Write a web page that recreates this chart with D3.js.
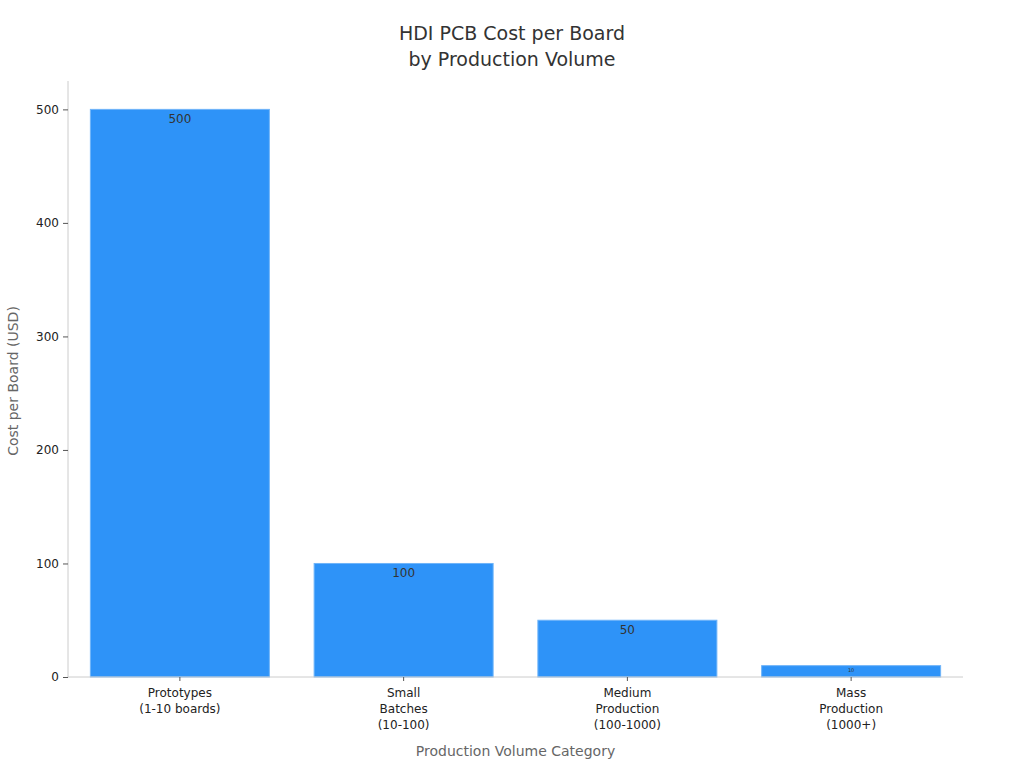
<!DOCTYPE html><html><head><meta charset="utf-8"><script src="https://cdn.jsdelivr.net/npm/d3@7"></script>
<style>body{margin:0;background:#fff;font-family:"DejaVu Sans",sans-serif}</style></head><body><svg id="c" width="1024" height="768"></svg>
<script>
const categories=[["Prototypes","(1-10 boards)"],["Small","Batches","(10-100)"],["Medium","Production","(100-1000)"],["Mass","Production","(1000+)"]];
const values=[500,100,50,10];
const yTicks=[0,100,200,300,400,500];
const svg=d3.select("#c");
const L=68,R=963,T=81,B=677;
const x=d3.scaleBand().domain(d3.range(4)).range([L,R]).paddingInner(0.2).paddingOuter(0.1);
const y=d3.scaleLinear().domain([0,525]).range([B,T]);
svg.append("text").attr("x",512).attr("y",40).attr("text-anchor","middle").attr("font-size",19).attr("fill","#333").text("HDI PCB Cost per Board");
svg.append("text").attr("x",512).attr("y",66).attr("text-anchor","middle").attr("font-size",19).attr("fill","#333").text("by Production Volume");
svg.selectAll("rect.b").data(values).enter().append("rect").attr("x",(d,i)=>x(i)).attr("width",x.bandwidth()).attr("y",d=>y(d)).attr("height",d=>B-y(d)).attr("fill","#2e93f8").attr("stroke","#6fb4f9").attr("stroke-width",1);
svg.selectAll("text.v").data(values).enter().append("text").attr("x",(d,i)=>x(i)+x.bandwidth()/2).attr("y",d=>d<20?y(d)+6:y(d)+14).attr("text-anchor","middle").attr("font-size",d=>d<20?5:12).attr("fill","#333").text(d=>d);
const ya=svg.append("g").attr("transform",`translate(${L},0)`).call(d3.axisLeft(y).tickValues(yTicks).tickSize(5).tickPadding(4));
ya.select(".domain").attr("d",`M0,${T}V${B}`).attr("stroke","#ccc");
ya.selectAll(".tick line").attr("stroke","#555");
ya.selectAll("text").attr("font-size",12).attr("fill","#222").attr("font-family","DejaVu Sans");
const xa=svg.append("g").attr("transform",`translate(0,${B})`).call(d3.axisBottom(x).tickSize(4).tickFormat(""));
xa.select(".domain").attr("d",`M${L},0H${R}`).attr("stroke","#ccc");
xa.selectAll(".tick line").attr("stroke","#555");
categories.forEach((c,i)=>{const t=svg.append("text").attr("text-anchor","middle").attr("font-size",12).attr("fill","#222");
c.forEach((s,j)=>t.append("tspan").attr("x",x(i)+x.bandwidth()/2).attr("y",697+j*16).text(s));});
svg.append("text").attr("x",(L+R)/2).attr("y",756).attr("text-anchor","middle").attr("font-size",14).attr("fill","#666").text("Production Volume Category");
svg.append("text").attr("transform",`translate(18,${(T+B)/2+2}) rotate(-90)`).attr("text-anchor","middle").attr("font-size",14).attr("fill","#666").text("Cost per Board (USD)");
</script></body></html>
